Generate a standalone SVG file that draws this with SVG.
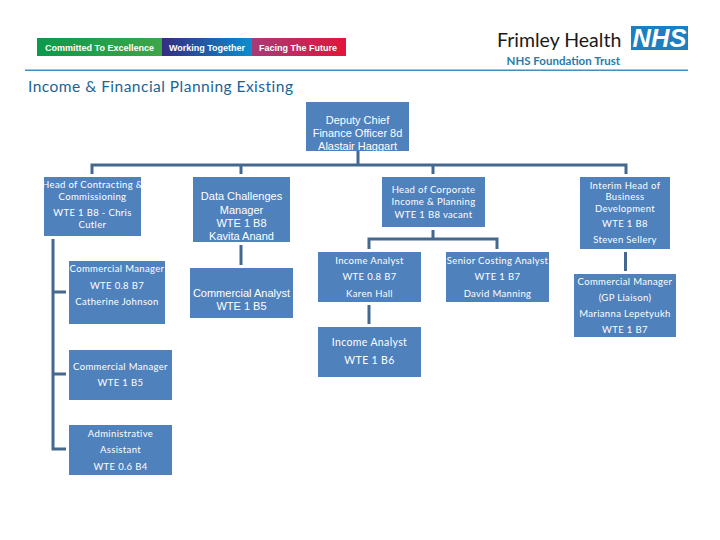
<svg xmlns="http://www.w3.org/2000/svg" width="720" height="540" viewBox="0 0 720 540">
<style>
.box{fill:#4f81bd}
.c{fill:none;stroke:#44688f;stroke-width:3}
text{fill:#fff;text-anchor:middle}
.a{font-family:"Liberation Sans",Arial,sans-serif;font-size:11px}
.l{font-family:Lato,"Liberation Sans",sans-serif;font-size:9.5px;letter-spacing:.35px}
.b{font-family:"Liberation Sans",Arial,sans-serif;font-weight:700;font-size:9px}
</style>
<defs>
<linearGradient id="g1"><stop offset="0" stop-color="#0b9a4c"/><stop offset="1" stop-color="#3fa548"/></linearGradient>
<linearGradient id="g2"><stop offset="0" stop-color="#352c80"/><stop offset="1" stop-color="#0b8fcf"/></linearGradient>
<linearGradient id="g3"><stop offset="0" stop-color="#a93a78"/><stop offset="1" stop-color="#e3143a"/></linearGradient>
</defs>
<rect width="720" height="540" fill="#fff"/>
<g id="banner">
<rect x="37" y="38" width="125" height="18" fill="url(#g1)"/>
<rect x="162" y="38" width="91" height="18" fill="url(#g2)"/>
<rect x="252" y="38" width="94" height="18" fill="url(#g3)"/>
<text class="b" x="99.500" y="51">Committed To Excellence</text>
<text class="b" x="207" y="51">Working Together</text>
<text class="b" x="298" y="51">Facing The Future</text>
</g>
<g id="logo">
<text x="497" y="47" style="fill:#1a1a1a;text-anchor:start;font-family:Lato,'Liberation Sans',sans-serif;font-size:19.500px">Frimley Health</text>
<text x="620" y="65" style="fill:#2a7aa8;text-anchor:end;font-family:Lato,'Liberation Sans',sans-serif;font-size:11.500px;font-weight:700">NHS Foundation Trust</text>
<rect x="631" y="26" width="57" height="24" fill="#1c7fc0"/>
<text x="659.500" y="47" style="font-family:'Liberation Sans',Arial,sans-serif;font-size:25.500px;font-weight:700;font-style:italic">NHS</text>
</g>
<rect x="25" y="69.500" width="663" height="1.500" fill="#3d8fc4"/>
<text x="28" y="92" style="fill:#1a6495;text-anchor:start;font-family:Lato,'Liberation Sans',sans-serif;font-size:15.500px;letter-spacing:.48px">Income &amp; Financial Planning Existing</text>
<g id="connectors" class="c">
<path d="M358 151V165M92 174V165H626V174M241 165V174M433 165V174"/>
<path d="M53 239V449H66M53 292H66M53 374H66"/>
<path d="M241 245V265"/>
<path d="M433 230V239M369 249V239H497V249"/>
<path d="M369 305V324"/>
<path d="M625.500 252V271"/>
</g>
<g id="deputy"><rect class="box" x="306" y="102" width="103" height="49"/>
<text class="a" x="357.500" y="124">Deputy Chief</text><text class="a" x="357.500" y="137">Finance Officer 8d</text><text class="a" x="357.500" y="150">Alastair Haggart</text></g>
<g id="head-contracting"><rect class="box" x="44" y="177" width="97" height="59"/>
<text class="l" x="92.500" y="188">Head of Contracting &amp;</text><text class="l" x="92.500" y="200">Commissioning</text><text class="l" x="92.500" y="216">WTE 1 B8  - Chris</text><text class="l" x="92.500" y="228">Cutler</text></g>
<g id="data-challenges"><rect class="box" x="193" y="177" width="97" height="65"/>
<text class="a" x="241.500" y="200">Data Challenges</text><text class="a" x="241.500" y="214">Manager</text><text class="a" x="241.500" y="227">WTE  1  B8</text><text class="a" x="241.500" y="240">Kavita  Anand</text></g>
<g id="head-corporate"><rect class="box" x="382" y="177" width="103" height="50"/>
<text class="l" x="433.500" y="193">Head of Corporate</text><text class="l" x="433.500" y="205">Income &amp; Planning</text><text class="l" x="433.500" y="218">WTE 1 B8 vacant</text></g>
<g id="interim-head"><rect class="box" x="580" y="177" width="90" height="72"/>
<text class="l" x="625" y="189">Interim Head of</text><text class="l" x="625" y="200">Business</text><text class="l" x="625" y="212">Development</text><text class="l" x="625" y="227">WTE 1  B8</text><text class="l" x="625" y="243">Steven Sellery</text></g>
<g id="commercial-manager-1"><rect class="box" x="69" y="261" width="96" height="63"/>
<text class="l" x="117" y="272">Commercial Manager</text><text class="l" x="117" y="289">WTE 0.8  B7</text><text class="l" x="117" y="305">Catherine Johnson</text></g>
<g id="commercial-analyst"><rect class="box" x="190" y="268" width="103" height="50"/>
<text class="a" x="241.500" y="297">Commercial Analyst</text><text class="a" x="241.500" y="310">WTE  1  B5</text></g>
<g id="income-analyst-1"><rect class="box" x="318" y="252" width="103" height="50"/>
<text class="l" x="369.500" y="264">Income Analyst</text><text class="l" x="369.500" y="280">WTE 0.8  B7</text><text class="l" x="369.500" y="297">Karen Hall</text></g>
<g id="senior-costing"><rect class="box" x="446" y="252" width="103" height="50"/>
<text class="l" x="497.500" y="264">Senior Costing Analyst</text><text class="l" x="497.500" y="280">WTE 1  B7</text><text class="l" x="497.500" y="297">David Manning</text></g>
<g id="commercial-manager-gp"><rect class="box" x="574" y="274" width="102" height="63"/>
<text class="l" x="625" y="285">Commercial Manager</text><text class="l" x="625" y="301">(GP Liaison)</text><text class="l" x="625" y="317">Marianna  Lepetyukh</text><text class="l" x="625" y="333">WTE 1  B7</text></g>
<g id="income-analyst-2"><rect class="box" x="318" y="327" width="103" height="50"/>
<text class="l" x="369.500" y="346" style="font-size:10.500px">Income Analyst</text><text class="l" x="369.500" y="364" style="font-size:10.500px">WTE 1  B6</text></g>
<g id="commercial-manager-2"><rect class="box" x="69" y="350" width="103" height="50"/>
<text class="l" x="120.500" y="370">Commercial Manager</text><text class="l" x="120.500" y="386">WTE 1  B5</text></g>
<g id="admin-assistant"><rect class="box" x="69" y="425" width="103" height="50"/>
<text class="l" x="120.500" y="437">Administrative</text><text class="l" x="120.500" y="453">Assistant</text><text class="l" x="120.500" y="470">WTE 0.6  B4</text></g>
</svg>
